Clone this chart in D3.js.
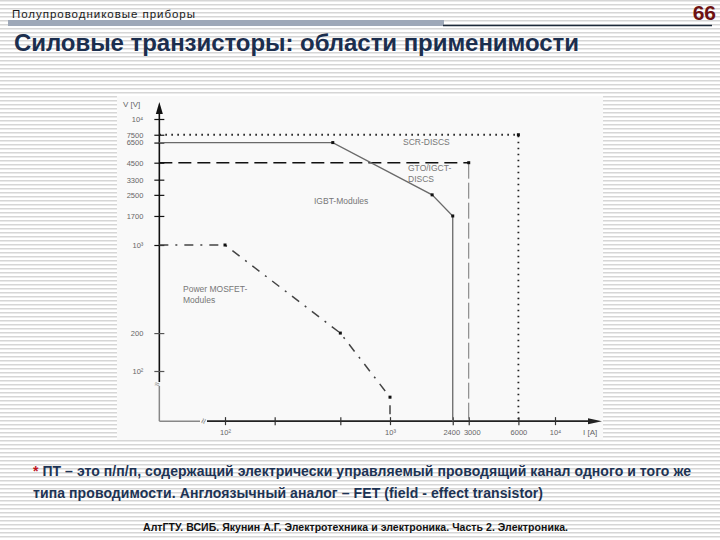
<!DOCTYPE html>
<html>
<head>
<meta charset="utf-8">
<script src="https://cdn.jsdelivr.net/npm/d3@7"></script>
<style>
  html, body { margin: 0; padding: 0; background: #fff; }
  svg { display: block; font-family: "Liberation Sans", Arial, sans-serif; }
</style>
</head>
<body>
<svg id="chart" width="720" height="540"></svg>
<script>
// Tick values and their labels
const yTickValues = [100, 200, 1000, 1700, 2500, 3300, 4500, 6500, 7500, 10000];
const yTickLabels = ["10²", "200", "10³", "1700", "2500", "3300", "4500", "6500", "7500", "10⁴"];
const xTickValues = [100, 200, 500, 1000, 2400, 3000, 6000, 10000];
const xTickLabels = ["10²", "", "", "10³", "2400", "3000", "6000", "10⁴"];

// Series: [I (A), V (V)], 40 is the axis origin (the break)
const scrDiscs = [[40, 7500], [6000, 7500], [6000, 40]];
const gtoDiscs = [[40, 4500], [3000, 4500]];
const gtoDiscsDrop = [[3000, 4500], [3000, 40]];
const igbtModules = [[40, 6500], [450, 6500], [1800, 2500], [2400, 1700], [2400, 40]];
const mosfetModules = [[40, 1000], [100, 1000], [500, 200], [1000, 62], [1000, 40]];
const cornerPoints = [[6000, 7500], [3000, 4500], [450, 6500], [1800, 2500], [2400, 1700],
                      [100, 1000], [500, 200], [1000, 62]];

const svg = d3.select("#chart");

// striped slide background
const defs = svg.append("defs");
const pat = defs.append("pattern")
  .attr("id", "stripes")
  .attr("width", 8).attr("height", 4)
  .attr("patternUnits", "userSpaceOnUse");
pat.append("rect").attr("width", 8).attr("height", 4).attr("fill", "#ffffff");
pat.append("rect").attr("y", 0).attr("width", 8).attr("height", 1.5).attr("fill", "#d6d6d6");

svg.append("rect").attr("width", 720).attr("height", 540).attr("fill", "url(#stripes)");

// Header ---------------------------------------
svg.append("text")
  .attr("x", 12).attr("y", 18)
  .attr("font-size", 11.5)
  .attr("fill", "#1a1a1a")
  .attr("textLength", 183)
  .text("Полупроводниковые приборы");

svg.append("rect")
  .attr("x", 8).attr("y", 20).attr("width", 436).attr("height", 6)
  .attr("fill", "#9ea8b8");
svg.append("line")
  .attr("x1", 443).attr("x2", 712).attr("y1", 25.5).attr("y2", 25.5)
  .attr("stroke", "#1d2a3a").attr("stroke-width", 1.5);

svg.append("text")
  .attr("x", 716).attr("y", 20)
  .attr("text-anchor", "end")
  .attr("font-size", 21).attr("font-weight", "bold")
  .attr("fill", "#6e1212")
  .text("66");

svg.append("text")
  .attr("x", 14).attr("y", 51)
  .attr("font-size", 24).attr("font-weight", "bold")
  .attr("fill", "#1b2e4e")
  .attr("textLength", 565)
  .text("Силовые транзисторы: области применимости");

// Chart panel ----------------------------------
svg.append("rect")
  .attr("x", 117).attr("y", 96).attr("width", 486).attr("height", 344)
  .attr("fill", "#f9f9f9");

const x = d3.scaleLog().domain([100, 10000]).range([225, 555]);
const y = d3.scaleLog().domain([100, 10000]).range([371, 119]);
const x0 = x(40), y0 = y(40);

const g = svg.append("g");

// Axes, drawn by hand with arrows and breaks
// y axis: gray part below the break, black above
g.append("line").attr("x1", x0).attr("x2", x0).attr("y1", y0).attr("y2", 386)
  .attr("stroke", "#888").attr("stroke-width", 1.5);
g.append("line").attr("x1", x0).attr("x2", x0).attr("y1", 382).attr("y2", 108)
  .attr("stroke", "#111").attr("stroke-width", 1.6);
g.append("path")
  .attr("d", `M${x0},102 L${x0 - 3.5},114 L${x0 + 3.5},114 Z`)
  .attr("fill", "#111");
g.append("text")
  .attr("x", x0 - 2).attr("y", 387)
  .attr("font-size", 9).attr("fill", "#777")
  .attr("text-anchor", "middle")
  .text("≈");

// x axis
g.append("line").attr("x1", x0).attr("x2", 200).attr("y1", y0).attr("y2", y0)
  .attr("stroke", "#888").attr("stroke-width", 1.5);
g.append("line").attr("x1", 207).attr("x2", 592).attr("y1", y0).attr("y2", y0)
  .attr("stroke", "#222").attr("stroke-width", 1.8);
g.append("path")
  .attr("d", `M602,${y0} L588,${y0 - 3} L588,${y0 + 3} Z`)
  .attr("fill", "#222");
g.append("text")
  .attr("x", 204).attr("y", y0 + 3)
  .attr("font-size", 10).attr("fill", "#777")
  .attr("text-anchor", "middle")
  .attr("transform", `rotate(-70, 204, ${y0})`)
  .text("≈");

// y ticks
const yAxis = d3.axisLeft(y)
  .tickValues(yTickValues)
  .tickSize(0)
  .tickPadding(16)
  .tickFormat((d, i) => yTickLabels[i]);
const yAxisG = g.append("g").attr("transform", `translate(${x0},0)`).call(yAxis);
yAxisG.select(".domain").remove();
yAxisG.selectAll(".tick text")
  .attr("font-size", 7.5).attr("fill", "#666")
  .attr("font-family", "Liberation Sans, Arial, sans-serif");
yAxisG.selectAll(".tick").append("line")
  .attr("x1", -5).attr("x2", 5)
  .attr("stroke", (d) => d === 100 || d === 200 ? "#555" : "#111")
  .attr("stroke-width", 1.2);

// x ticks
const xAxis = d3.axisBottom(x)
  .tickValues(xTickValues)
  .tickSize(0)
  .tickPadding(9)
  .tickFormat((d, i) => xTickLabels[i]);
const xAxisG = g.append("g").attr("transform", `translate(0,${y0})`).call(xAxis);
xAxisG.select(".domain").remove();
xAxisG.selectAll(".tick text")
  .attr("font-size", 7.5).attr("fill", "#666")
  .attr("font-family", "Liberation Sans, Arial, sans-serif")
  .attr("dx", (d) => d === 2400 ? -1.5 : d === 3000 ? 3 : 0);
xAxisG.selectAll(".tick").append("line")
  .attr("y1", -4).attr("y2", 4)
  .attr("stroke", "#333").attr("stroke-width", 1.2);

// axis names
g.append("text").attr("x", 123).attr("y", 107)
  .attr("font-size", 8).attr("fill", "#666").text("V [V]");
g.append("text").attr("x", 583).attr("y", 435)
  .attr("font-size", 8).attr("fill", "#666").text("I [A]");

// Series lines
const line = d3.line().x(d => x(d[0])).y(d => y(d[1]));

g.append("path").attr("d", line(scrDiscs))
  .attr("fill", "none").attr("stroke", "#222")
  .attr("stroke-width", 1.8).attr("stroke-dasharray", "1.6,4.4");

g.append("path").attr("d", line(gtoDiscs))
  .attr("fill", "none").attr("stroke", "#111")
  .attr("stroke-width", 1.6).attr("stroke-dasharray", "13,6");
g.append("path").attr("d", line(gtoDiscsDrop))
  .attr("fill", "none").attr("stroke", "#777")
  .attr("stroke-width", 1).attr("stroke-dasharray", "16,4");

g.append("path").attr("d", line(igbtModules))
  .attr("fill", "none").attr("stroke", "#6a6a6a")
  .attr("stroke-width", 1.3);

g.append("path").attr("d", line(mosfetModules))
  .attr("fill", "none").attr("stroke", "#444")
  .attr("stroke-width", 1.5).attr("stroke-dasharray", "9,7,2,7");

g.selectAll(".corner")
  .data(cornerPoints)
  .enter().append("rect")
  .attr("class", "corner")
  .attr("x", d => x(d[0]) - 1.5).attr("y", d => y(d[1]) - 1.5)
  .attr("width", 3).attr("height", 3)
  .attr("fill", "#111");

// Region labels
const labelStyle = (t) => t.attr("font-size", 8.5).attr("fill", "#777");
labelStyle(g.append("text").attr("x", 403).attr("y", 145).text("SCR-DISCS"));
labelStyle(g.append("text").attr("x", 408).attr("y", 171).text("GTO/IGCT-"));
labelStyle(g.append("text").attr("x", 408).attr("y", 182).text("DISCS"));
labelStyle(g.append("text").attr("x", 314).attr("y", 204).text("IGBT-Modules"));
labelStyle(g.append("text").attr("x", 183).attr("y", 292).text("Power MOSFET-"));
labelStyle(g.append("text").attr("x", 183).attr("y", 303).text("Modules"));

// Footnote ------------------------------------
const note = svg.append("text")
  .attr("x", 33).attr("y", 476)
  .attr("font-size", 14).attr("font-weight", "bold")
  .attr("fill", "#1d3354")
  .attr("textLength", 658);
note.append("tspan").attr("fill", "#c0141c").text("*");
note.append("tspan").text(" ПТ – это п/п/п, содержащий электрически управляемый проводящий канал  одного и того же");

svg.append("text")
  .attr("x", 33).attr("y", 498)
  .attr("font-size", 14).attr("font-weight", "bold")
  .attr("fill", "#1d3354")
  .attr("textLength", 510)
  .text("типа проводимости.  Англоязычный аналог – FET (field - effect transistor)");

svg.append("text")
  .attr("x", 143).attr("y", 531)
  .attr("font-size", 10.5).attr("font-weight", "bold")
  .attr("fill", "#111")
  .attr("textLength", 425)
  .text("АлтГТУ. ВСИБ. Якунин А.Г.  Электротехника и электроника. Часть 2. Электроника.");
</script>
</body>
</html>
